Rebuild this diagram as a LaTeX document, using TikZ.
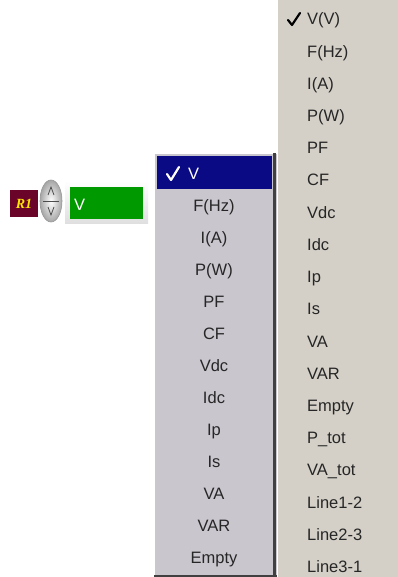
\documentclass[tikz,border=0pt]{standalone}
\usepackage{fontspec}
\setmainfont{Liberation Sans}
\newfontfamily\rfont{Liberation Serif}
\definecolor{menugray}{HTML}{D4D0C8}
\definecolor{midgray}{HTML}{CAC6CE}
\definecolor{navy}{HTML}{0A0A84}
\definecolor{maroon}{HTML}{6A0428}
\definecolor{gbox}{HTML}{009A00}
\definecolor{dark}{HTML}{404040}
\tikzset{
  item/.style={font=\fontsize{16.5}{16.5}\selectfont, inner sep=0pt, text=black!85},
  ritem/.style={item, anchor=base west},
  mitem/.style={item, anchor=base},
  tick/.style={line width=2.2pt, line cap=round, line join=round}
}
\begin{document}
\begin{tikzpicture}[x=1pt,y=-1pt]
\useasboundingbox (0,0) rectangle (398,577);
\fill[white] (0,0) rectangle (398,577);
% right menu
\fill[menugray] (278,0) rectangle (398,577);
\foreach \t [count=\i from 0] in {V(V),F(Hz),I(A),P(W),PF,CF,Vdc,Idc,Ip,Is,VA,VAR,Empty,P\_tot,VA\_tot,Line1-2,Line2-3,Line3-1}{
  \node[ritem] (r\i) at (307,{25+32.2*\i}) {\t};
}
\draw[tick,black] (288,20) -- (292,25) -- (300,13);
% middle menu
\fill[midgray] (154,153) rectangle (277,577);
\draw[white, line width=1pt] (154.5,577) -- (154.5,153.5) -- (277,153.5);
\draw[dark, line width=3pt] (274.5,153) -- (274.5,577);
\draw[dark, line width=2pt] (154,576) -- (277,576);
\fill[navy] (157,156) rectangle (272,189);
\node[item, anchor=base west, text=white] (m0) at (188,179) {V};
\draw[tick,white] (167,174) -- (171,180) -- (179,167);
\foreach \t [count=\i from 1] in {F(Hz),I(A),P(W),PF,CF,Vdc,Idc,Ip,Is,VA,VAR,Empty}{
  \node[mitem] (m\i) at (214,{179+32.08*\i}) {\t};
}
% left widget
\fill[maroon] (10,190) rectangle (38,217);
\node[font=\rfont\bfseries\itshape\fontsize{14}{14}\selectfont, text=yellow!90!orange, inner sep=0pt] (r1lab) at (24,204) {R1};
\shade[inner color=white, outer color=gray!70] (51,201) ellipse [x radius=11, y radius=21];
\draw[gray!80, line width=0.6pt] (51,201) ellipse [x radius=11, y radius=21];
\draw[gray!60!black, line width=0.8pt] (48,195) -- (51,187) -- (54,195);
\draw[gray!60!black, line width=0.8pt] (48,207) -- (51,215) -- (54,207);
\draw[gray!60!black, line width=0.6pt] (43,201) -- (59,201);
\shade[top color=white, bottom color=gray!25] (65,181) rectangle (148,223);
\fill[gbox] (70,187) rectangle (143,219);
\node[item, anchor=base west, text=white] (gv) at (74,210) {V};
\end{tikzpicture}
\end{document}
